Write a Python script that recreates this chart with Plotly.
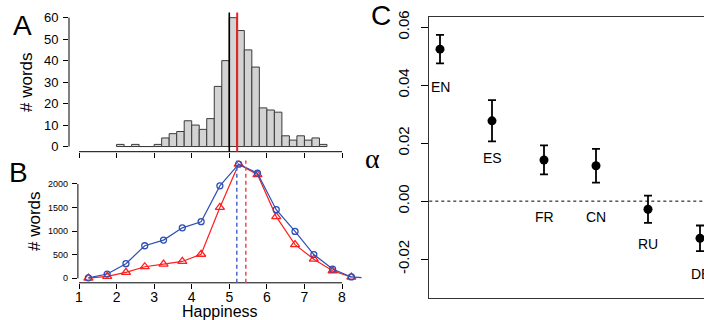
import plotly.graph_objects as go

# ---------------- data ----------------
# Panel A: histogram (bin starts, counts)
hist_bin_start = [2.0, 2.2, 2.4, 2.6, 2.8, 3.0, 3.2, 3.4, 3.6, 3.8, 4.0, 4.2, 4.4, 4.6,
                  4.8, 5.0, 5.2, 5.4, 5.6, 5.8, 6.0, 6.2, 6.4, 6.6, 6.8, 7.0, 7.2, 7.4]
hist_counts = [1, 0, 1, 0, 0, 1, 4, 6, 7, 12, 10, 8, 13, 28,
               40, 60, 54, 45, 37, 18, 17, 16, 5, 3, 5, 3, 4, 1]
hist_bin_width = 0.2
mark_black = 5.0
mark_red = 5.21

# Panel B: word counts per happiness bin
happ_bins = [1.25, 1.75, 2.25, 2.75, 3.25, 3.75, 4.25, 4.75, 5.25, 5.75, 6.25, 6.75, 7.25, 7.75, 8.25]
blue_counts = [10, 90, 310, 690, 810, 1070, 1200, 1960, 2420, 2230, 1455, 993, 503, 196, 28]
blue_tail_x = [8.75]
blue_tail_counts = [5]
red_counts = [5, 42, 126, 245, 300, 357, 510, 1503, 2420, 2200, 1308, 713, 405, 160, 25]
mean_blue = 5.2
mean_red = 5.44

# Panel C: alpha per language
langs = ["EN", "ES", "FR", "CN", "RU", "DE"]
alpha = [0.0524, 0.0277, 0.0142, 0.0122, -0.0028, -0.0128]
alpha_err = [0.0049, 0.0071, 0.0050, 0.0058, 0.0047, 0.0044]
label_y = [0.0395, 0.0149, -0.0054, -0.0054, -0.0148, -0.0252]

a_yticks = [0, 10, 20, 30, 40, 50, 60]
b_yticks = [0, 500, 1000, 1500, 2000]
x_ticks = [1, 2, 3, 4, 5, 6, 7, 8]
c_yticks = [-0.02, 0.0, 0.02, 0.04, 0.06]
c_yticktext = ["-0.02", "0.00", "0.02", "0.04", "0.06"]

# ---------------- figure ----------------
W, H = 704, 320
FONT = "Liberation Sans, Arial, Helvetica, sans-serif"
BLUE = "#2e4fb3"
RED = "#ff1f1f"


def px_x(p):
    return p / W


def px_y(p):
    return 1 - p / H


fig = go.Figure()

# Panel A
fig.add_trace(go.Bar(
    x=hist_bin_start, y=hist_counts, width=hist_bin_width, offset=0,
    marker=dict(color="#d3d3d3", line=dict(color="#3a3a3a", width=1)),
    xaxis="x", yaxis="y", showlegend=False))

# Panel B
fig.add_trace(go.Scatter(
    x=happ_bins, y=red_counts, mode="lines+markers",
    line=dict(color=RED, width=1.2),
    marker=dict(symbol="triangle-up-open", size=8, color=RED, line=dict(width=1.3)),
    xaxis="x2", yaxis="y2", showlegend=False))
fig.add_trace(go.Scatter(
    x=happ_bins + blue_tail_x, y=blue_counts + blue_tail_counts, mode="lines+markers",
    line=dict(color=BLUE, width=1.2),
    marker=dict(symbol="circle-open", size=6, color=BLUE, line=dict(width=1.3),
                opacity=[1] * len(happ_bins) + [0] * len(blue_tail_x)),
    xaxis="x2", yaxis="y2", showlegend=False))

# Panel C
lang_x = list(range(1, len(langs) + 1))
fig.add_trace(go.Scatter(
    x=lang_x, y=alpha, mode="markers",
    marker=dict(color="black", size=9),
    error_y=dict(type="data", array=alpha_err, color="black", thickness=1.8, width=4),
    xaxis="x3", yaxis="y3", showlegend=False))

# ---------------- axes ----------------
common = dict(showgrid=False, zeroline=False, showline=False, ticks="outside",
              tickcolor="black", tickwidth=1, automargin=False,
              tickfont=dict(family=FONT, color="black"))

ppu = (342 - 79) / 7.0  # pixels per happiness unit
a_left, a_right = 69.0, 352.5
b_left, b_right = 77.9, 361.6

fig.update_layout(
    template="none",
    width=W, height=H, margin=dict(l=0, r=0, t=0, b=0, pad=0, autoexpand=False),
    paper_bgcolor="white", plot_bgcolor="rgba(0,0,0,0)",
    font=dict(family=FONT, color="black"),
    xaxis=dict(**common, domain=[px_x(a_left), px_x(a_right)],
               range=[1 - (79 - a_left) / ppu, 8 + (a_right - 342) / ppu],
               tickvals=x_ticks, showticklabels=False, ticklen=5, anchor="y"),
    yaxis=dict(**common, domain=[px_y(151.7), px_y(12.5)], range=[-2.4, 62.4],
               tickvals=a_yticks, ticklen=5, anchor="x",
               ticklabelstandoff=2),
    xaxis2=dict(**common, domain=[px_x(b_left), px_x(b_right)],
                range=[1 - (79 - b_left) / ppu, 8 + (b_right - 342) / ppu],
                tickvals=x_ticks, ticklen=5, anchor="y2", ticklabelstandoff=-4),
    yaxis2=dict(**common, domain=[px_y(282.8), px_y(160.6)], range=[-96, 2496],
                tickvals=b_yticks, ticklen=5, anchor="x2", ticklabelstandoff=2),
    xaxis3=dict(showgrid=False, zeroline=False, showline=True, mirror=True, automargin=False,
                linecolor="#333333", linewidth=1.2, ticks="", showticklabels=False,
                domain=[px_x(429.3), 1.0], range=[1 - 10.7 / 52.0, 1 + (704 - 440) / 52.0],
                anchor="y3"),
    yaxis3=dict(showgrid=False, zeroline=False, showline=True, mirror=False, automargin=False,
                linecolor="#333333", linewidth=1.2, ticks="outside", ticklen=7,
                tickcolor="black", tickvals=c_yticks, ticktext=c_yticktext,
                tickangle=-90, tickfont=dict(family=FONT, size=15, color="black"),
                domain=[px_y(298.3), px_y(16.7)], range=[-0.0335, 0.0636],
                anchor="x3", ticklabelstandoff=6),
)
fig.layout.yaxis.tickfont.size = 13
fig.layout.yaxis2.tickfont.size = 9
fig.layout.xaxis2.tickfont.size = 14

# ---------------- shapes ----------------
shapes = [
    # R-style axis lines spanning the tick range
    dict(type="line", xref="x domain", yref="y", x0=0, x1=0, y0=a_yticks[0], y1=a_yticks[-1],
         line=dict(color="black", width=1)),
    dict(type="line", xref="x", yref="y domain", x0=x_ticks[0], x1=x_ticks[-1], y0=0, y1=0,
         line=dict(color="black", width=1)),
    dict(type="line", xref="x2 domain", yref="y2", x0=0, x1=0, y0=b_yticks[0], y1=b_yticks[-1],
         line=dict(color="black", width=1)),
    dict(type="line", xref="x2", yref="y2 domain", x0=x_ticks[0], x1=x_ticks[-1], y0=0, y1=0,
         line=dict(color="black", width=1)),
    # panel A reference lines
    dict(type="line", xref="x", yref="y domain", x0=mark_black, x1=mark_black, y0=0, y1=1,
         line=dict(color="black", width=1.6)),
    dict(type="line", xref="x", yref="y domain", x0=mark_red, x1=mark_red, y0=0, y1=1,
         line=dict(color="rgb(235,35,35)", width=2)),
    # panel B mean lines
    dict(type="line", xref="x2", yref="y2 domain", x0=mean_blue, x1=mean_blue, y0=0, y1=1,
         line=dict(color="#4a68c8", width=1.5, dash="4px,3px")),
    dict(type="line", xref="x2", yref="y2 domain", x0=mean_red, x1=mean_red, y0=0, y1=1,
         line=dict(color="#f04848", width=1.5, dash="4px,3px")),
    # panel C zero line
    dict(type="line", xref="x3 domain", yref="y3", x0=0, x1=1, y0=0, y1=0,
         line=dict(color="black", width=1, dash="3px,3px")),
]
fig.update_layout(shapes=shapes)

# ---------------- annotations ----------------
ann = []


def txt(x, y, s, size, angle=0, family=FONT):
    ann.append(dict(xref="paper", yref="paper", x=px_x(x), y=px_y(y), text=s,
                    showarrow=False, xanchor="center", yanchor="middle", textangle=angle,
                    font=dict(family=family, size=size, color="black")))


txt(22, 25, "A", 28)
txt(18, 172, "B", 28)
txt(381, 15, "C", 28)
txt(26, 82, "# words", 17, -90)
txt(34, 221, "# words", 17, -90)
txt(220, 311, "Happiness", 16)
txt(372, 158, "α", 28, 0, "Liberation Serif, Times New Roman, serif")

for lx, ly, name in zip(lang_x, label_y, langs):
    ann.append(dict(xref="x3", yref="y3", x=lx, y=ly, text=name, showarrow=False,
                    xanchor="center", yanchor="middle",
                    font=dict(family=FONT, size=14, color="black")))

fig.update_layout(annotations=ann)

fig.write_html(
    "out.html",
    config={"displayModeBar": False},
    post_script="document.documentElement.style.margin='0';"
                "document.body.style.margin='0';document.body.style.overflow='hidden';",
)
